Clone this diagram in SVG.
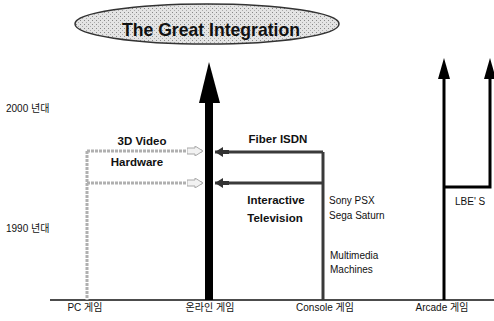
<svg xmlns="http://www.w3.org/2000/svg" width="494" height="321" viewBox="0 0 494 321">
<defs>
<pattern id="stip" width="4" height="4" patternUnits="userSpaceOnUse">
<rect width="4" height="4" fill="#e4e4e4"/>
<rect x="0" y="0" width="1" height="1" fill="#888"/>
<rect x="2" y="2" width="1" height="1" fill="#aaa"/>
</pattern>
<marker id="hollow" viewBox="0 0 16 10" refX="16" refY="5" markerWidth="16" markerHeight="10" markerUnits="userSpaceOnUse" orient="auto">
<path d="M0,2 L8,2 L8,0 L16,5 L8,10 L8,8 L0,8 Z" fill="#f2f2f2" stroke="#a8a8a8" stroke-width="1"/>
</marker>
<marker id="darkhead" viewBox="0 0 14 10" refX="14" refY="5" markerWidth="14" markerHeight="10" markerUnits="userSpaceOnUse" orient="auto">
<path d="M0,3 L6,3 L6,0 L14,5 L6,10 L6,7 L0,7 Z" fill="#333"/>
</marker>
</defs>
<style>
.lbl{font-family:"Liberation Sans",Arial,"Noto Sans CJK KR",sans-serif;font-size:10px;fill:#111}
.bold{font-family:"Liberation Sans",Arial,"Noto Sans CJK KR",sans-serif;font-size:11.5px;font-weight:bold;fill:#111}
.gray{fill:none;stroke:#b0b0b0;stroke-width:3;stroke-dasharray:3 1}
.dark{fill:none;stroke:#3a3a3a;stroke-width:3}
</style>
<rect width="494" height="321" fill="#fff"/>

<g id="title">
<ellipse cx="207" cy="24" rx="132" ry="20" fill="url(#stip)" stroke="#333" stroke-width="1.5"/>
<text x="211" y="36" text-anchor="middle" font-family="Liberation Sans,Arial,sans-serif" font-size="19" font-weight="bold" fill="#111" textLength="178" lengthAdjust="spacingAndGlyphs">The Great Integration</text>
</g>

<g id="axis">
<line x1="50" y1="300" x2="494" y2="300" stroke="#111" stroke-width="1.5"/>
<text class="lbl" x="6" y="112">2000 년대</text>
<text class="lbl" x="6" y="232">1990 년대</text>
<text class="lbl" x="85" y="311" text-anchor="middle">PC 게임</text>
<text class="lbl" x="210" y="311" text-anchor="middle">온라인 게임</text>
<text class="lbl" x="325" y="311" text-anchor="middle">Console 게임</text>
<text class="lbl" x="442" y="311" text-anchor="middle">Arcade 게임</text>
</g>

<g id="online">
<rect x="205" y="102" width="8" height="198" fill="#000"/>
<polygon points="209,62 220,103 199,103" fill="#000"/>
</g>

<g id="pc">
<line class="gray" x1="87" y1="151" x2="87" y2="300"/>
</g>

<g id="console">
<line class="dark" x1="323" y1="152" x2="323" y2="300"/>
</g>

<g id="arcade">
<line x1="444" y1="76" x2="444" y2="300" stroke="#000" stroke-width="3"/>
<polygon points="444,58 450,79 438,79" fill="#000"/>
<polyline points="444,187 490,187 490,76" fill="none" stroke="#000" stroke-width="3"/>
<polygon points="490,58 496,79 484,79" fill="#000"/>
<text class="lbl" x="455" y="205">LBE' S</text>
</g>

<g id="connectors">
<line class="gray" x1="87" y1="151" x2="203" y2="151" marker-end="url(#hollow)"/>
<line class="gray" x1="87" y1="183" x2="203" y2="183" marker-end="url(#hollow)"/>
<line class="dark" x1="323" y1="152" x2="215" y2="152" marker-end="url(#darkhead)"/>
<line class="dark" x1="323" y1="183" x2="215" y2="183" marker-end="url(#darkhead)"/>
</g>

<g id="labels">
<text class="bold" x="142" y="145" text-anchor="middle">3D Video</text>
<text class="bold" x="137" y="166" text-anchor="middle">Hardware</text>
<text class="bold" x="278" y="143" text-anchor="middle">Fiber ISDN</text>
<text class="bold" x="276" y="204" text-anchor="middle">Interactive</text>
<text class="bold" x="275" y="222" text-anchor="middle">Television</text>
<text class="lbl" x="329" y="204">Sony PSX</text>
<text class="lbl" x="329" y="219">Sega Saturn</text>
<text class="lbl" x="330" y="259">Multimedia</text>
<text class="lbl" x="330" y="273">Machines</text>
</g>
</svg>
